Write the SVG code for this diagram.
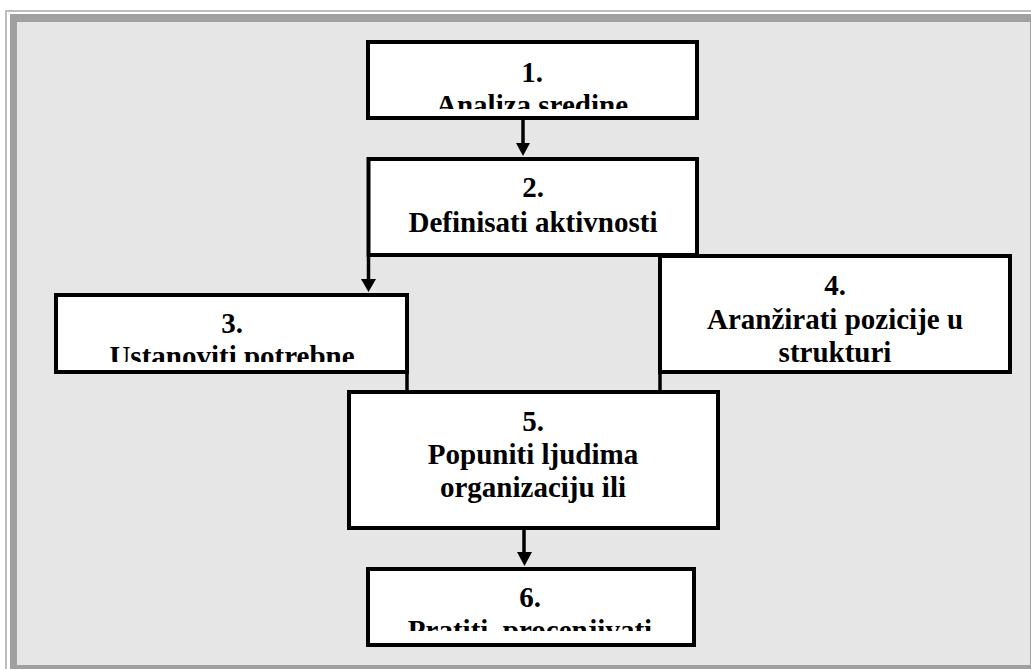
<svg xmlns="http://www.w3.org/2000/svg" width="1031" height="669" viewBox="0 0 1031 669">
<style>
.box{fill:#ffffff;stroke:#000000;stroke-width:4}
.t{font-family:"Liberation Serif","Times New Roman",serif;font-weight:bold;font-size:29px;fill:#000000;text-anchor:middle}
.ln{stroke:#000000;stroke-width:3.5;fill:none}
.ah{fill:#000000}
</style>
<defs>
<clipPath id="c1"><rect x="370" y="44" width="325" height="65"/></clipPath>
<clipPath id="c2"><rect x="370" y="161" width="325" height="84"/></clipPath>
<clipPath id="c3"><rect x="58" y="297" width="347" height="65"/></clipPath>
<clipPath id="c5"><rect x="351" y="394" width="365" height="118"/></clipPath>
<clipPath id="c6"><rect x="370" y="571" width="322" height="60"/></clipPath>
</defs>
<rect x="0" y="0" width="1031" height="669" fill="#ffffff"/>
<path d="M6 669 V11 H1031" stroke="#bdbdbd" stroke-width="2" fill="none"/>
<rect x="10" y="14" width="1021" height="655" fill="#a0a0a0"/>
<rect x="17" y="22" width="1013" height="643" fill="#e6e6e6"/>
<g id="connectors">
<line class="ln" x1="523" y1="120" x2="523" y2="146"/>
<polygon class="ah" points="516,143 530,143 523,156"/>
<line class="ln" x1="368.5" y1="257" x2="368.5" y2="282"/>
<polygon class="ah" points="361,279 376,279 368.5,292"/>
<line class="ln" x1="407" y1="372" x2="407" y2="392"/>
<line class="ln" x1="660" y1="372" x2="660" y2="392"/>
<line class="ln" x1="524" y1="528" x2="524" y2="555"/>
<polygon class="ah" points="517,552 532,552 524.5,566"/>
</g>
<g id="node1">
<rect class="box" x="368" y="42" width="329" height="76"/>
<g clip-path="url(#c1)">
<text class="t" x="532" y="82">1.</text>
<text class="t" x="532" y="115">Analiza sredine</text>
</g>
</g>
<g id="node2">
<rect class="box" x="368.5" y="159" width="328.5" height="96"/>
<g clip-path="url(#c2)">
<text class="t" x="533" y="197">2.</text>
<text class="t" x="533" y="232">Definisati aktivnosti</text>
</g>
</g>
<g id="node3">
<rect class="box" x="56" y="295" width="351" height="77"/>
<g clip-path="url(#c3)">
<text class="t" x="232" y="333">3.</text>
<text class="t" x="232" y="366">Ustanoviti potrebne</text>
</g>
</g>
<g id="node4">
<rect class="box" x="660" y="256" width="350" height="116"/>
<text class="t" x="835" y="295">4.</text>
<text class="t" x="835" y="329">Aranžirati pozicije u</text>
<text class="t" x="835" y="362">strukturi</text>
</g>
<g id="node5">
<rect class="box" x="349" y="392" width="369" height="136"/>
<g clip-path="url(#c5)">
<text class="t" x="533" y="431">5.</text>
<text class="t" x="533" y="464">Popuniti ljudima</text>
<text class="t" x="533" y="497">organizaciju ili</text>
</g>
</g>
<g id="node6">
<rect class="box" x="368" y="569" width="326" height="76"/>
<g clip-path="url(#c6)">
<text class="t" x="530" y="607">6.</text>
<text class="t" x="530" y="640">Pratiti, procenjivati</text>
</g>
</g>
</svg>
